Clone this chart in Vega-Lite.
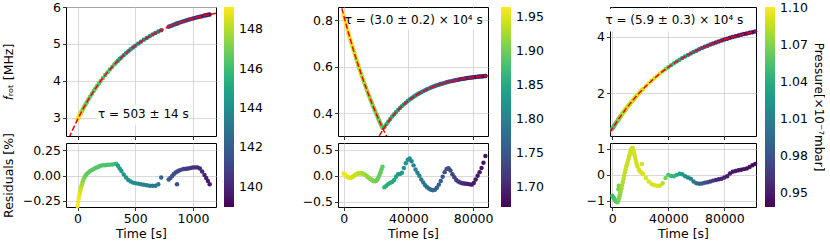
{
"$schema": "https://vega.github.io/schema/vega-lite/v6.json",
"background": "white",
"padding": {"left": 1, "top": 0, "right": 0, "bottom": 0},
"config": {
 "font": "DejaVu Sans",
 "view": {"stroke": "#000000", "strokeWidth": 1},
 "axis": {"labelFontSize": 12.5, "titleFontSize": 12.5, "titleFontWeight": "normal", "labelColor": "#000", "titleColor": "#000", "tickColor": "#000", "tickSize": 3.5, "tickWidth": 0.8, "domain": false, "gridColor": "#cfcfcf", "gridWidth": 0.8, "labelPadding": 2, "labelFlush": false, "labelOverlap": false, "labelBound": false},
 "legend": {"labelFontSize": 12.5, "labelColor": "#000", "titleFontSize": 12.5, "titleFontWeight": "normal", "titleColor": "#000"}
},
"datasets": {
 "d1": [
  {"t":0,"f":2.950,"r":-0.30,"p":149.0},{"t":5,"f":2.981,"r":-0.26,"p":149.0},{"t":10,"f":3.012,"r":-0.225,"p":148.9},{"t":15,"f":3.043,"r":-0.195,"p":148.8},{"t":20,"f":3.074,"r":-0.17,"p":148.7},{"t":25,"f":3.104,"r":-0.145,"p":148.5},{"t":30,"f":3.134,"r":-0.12,"p":148.3},{"t":35,"f":3.163,"r":-0.10,"p":148.0},{"t":40,"f":3.193,"r":-0.08,"p":147.8},{"t":45,"f":3.222,"r":-0.06,"p":147.5},{"t":50,"f":3.250,"r":-0.045,"p":147.3},{"t":60,"f":3.307,"r":-0.02,"p":147.0},{"t":70,"f":3.362,"r":0.0,"p":146.8},{"t":80,"f":3.417,"r":0.015,"p":146.7},{"t":95,"f":3.496,"r":0.03,"p":146.6},{"t":110,"f":3.573,"r":0.045,"p":146.6},{"t":125,"f":3.648,"r":0.055,"p":146.5},{"t":140,"f":3.721,"r":0.065,"p":146.5},{"t":155,"f":3.791,"r":0.075,"p":146.5},{"t":170,"f":3.860,"r":0.08,"p":146.4},{"t":185,"f":3.926,"r":0.088,"p":146.4},{"t":200,"f":3.991,"r":0.095,"p":146.4},{"t":220,"f":4.074,"r":0.10,"p":146.3},{"t":240,"f":4.154,"r":0.102,"p":146.3},{"t":260,"f":4.231,"r":0.105,"p":146.3},{"t":280,"f":4.305,"r":0.107,"p":146.2},{"t":300,"f":4.375,"r":0.108,"p":146.2},{"t":320,"f":4.444,"r":0.112,"p":146.1},{"t":335,"f":4.493,"r":0.115,"p":145.9},{"t":350,"f":4.541,"r":0.095,"p":144.8},{"t":365,"f":4.587,"r":0.07,"p":144.6},{"t":380,"f":4.632,"r":0.045,"p":144.5},{"t":400,"f":4.690,"r":0.01,"p":144.4},{"t":420,"f":4.746,"r":-0.02,"p":144.3},{"t":440,"f":4.800,"r":-0.045,"p":144.2},{"t":460,"f":4.852,"r":-0.06,"p":144.1},{"t":480,"f":4.901,"r":-0.07,"p":144.0},{"t":500,"f":4.949,"r":-0.075,"p":143.9},{"t":525,"f":5.006,"r":-0.08,"p":143.8},{"t":550,"f":5.060,"r":-0.085,"p":143.6},{"t":575,"f":5.111,"r":-0.09,"p":143.5},{"t":600,"f":5.160,"r":-0.095,"p":143.4},{"t":625,"f":5.207,"r":-0.10,"p":143.3},{"t":650,"f":5.252,"r":-0.10,"p":143.2},{"t":675,"f":5.294,"r":-0.10,"p":143.1},{"t":700,"f":5.334,"r":-0.085,"p":143.0},{"t":725,"f":5.372,"r":-0.02,"p":142.2},{"t":790,"f":5.463,"r":-0.04,"p":141.8},{"t":805,"f":5.483,"r":-0.025,"p":141.6},{"t":820,"f":5.501,"r":-0.005,"p":141.5},{"t":835,"f":5.520,"r":0.015,"p":141.4},{"t":850,"f":5.538,"r":0.03,"p":141.3},{"t":862,"f":5.552,"r":-0.085,"p":141.3},{"t":865,"f":5.555,"r":0.04,"p":141.2},{"t":880,"f":5.571,"r":0.05,"p":141.1},{"t":900,"f":5.593,"r":0.058,"p":141.0},{"t":920,"f":5.614,"r":0.063,"p":140.8},{"t":940,"f":5.633,"r":0.067,"p":140.7},{"t":960,"f":5.652,"r":0.07,"p":140.6},{"t":980,"f":5.671,"r":0.075,"p":140.5},{"t":1000,"f":5.688,"r":0.078,"p":140.4},{"t":1020,"f":5.705,"r":0.08,"p":140.3},{"t":1040,"f":5.722,"r":0.08,"p":140.2},{"t":1060,"f":5.737,"r":0.07,"p":140.1},{"t":1080,"f":5.752,"r":0.04,"p":140.0},{"t":1100,"f":5.767,"r":0.005,"p":139.9},{"t":1115,"f":5.777,"r":-0.025,"p":139.8},{"t":1130,"f":5.787,"r":-0.055,"p":139.7},{"t":1145,"f":5.797,"r":-0.085,"p":139.6}
 ],
 "l1": [
  {"t":-100,"f":2.252},{"t":-50,"f":2.618},{"t":0,"f":2.950},{"t":50,"f":3.250},{"t":100,"f":3.522},{"t":150,"f":3.768},{"t":200,"f":3.991},{"t":250,"f":4.193},{"t":300,"f":4.375},{"t":350,"f":4.541},{"t":400,"f":4.690},{"t":450,"f":4.826},{"t":500,"f":4.949},{"t":550,"f":5.060},{"t":600,"f":5.160},{"t":650,"f":5.251},{"t":700,"f":5.334},{"t":750,"f":5.409},{"t":800,"f":5.476},{"t":850,"f":5.538},{"t":900,"f":5.593},{"t":950,"f":5.643},{"t":1000,"f":5.688},{"t":1050,"f":5.730},{"t":1100,"f":5.767},{"t":1150,"f":5.801},{"t":1200,"f":5.831}
 ],
 "b1": [{"t":168,"t2":968,"f":3.35,"f2":2.81}],
 "a1": [{"t":570,"f":3.09,"label":"τ = 503 ± 14 s"}],
 "d2": [
  {"t":0,"f":0.820,"r":0.045,"p":1.962},{"t":600,"f":0.8043,"r":0.03,"p":1.960},{"t":1200,"f":0.7888,"r":0.01,"p":1.958},{"t":1800,"f":0.7735,"r":-0.01,"p":1.957},{"t":2400,"f":0.7585,"r":-0.025,"p":1.955},{"t":3000,"f":0.7436,"r":-0.035,"p":1.953},{"t":3600,"f":0.7290,"r":-0.04,"p":1.951},{"t":4200,"f":0.7146,"r":-0.04,"p":1.949},{"t":4800,"f":0.7004,"r":-0.035,"p":1.948},{"t":5400,"f":0.6864,"r":-0.025,"p":1.946},{"t":6000,"f":0.6726,"r":-0.01,"p":1.944},{"t":6600,"f":0.6589,"r":0.005,"p":1.942},{"t":7200,"f":0.6455,"r":0.02,"p":1.940},{"t":7800,"f":0.6323,"r":0.03,"p":1.939},{"t":8400,"f":0.6192,"r":0.038,"p":1.937},{"t":9000,"f":0.6064,"r":0.044,"p":1.935},{"t":9600,"f":0.5937,"r":0.048,"p":1.933},{"t":10200,"f":0.5812,"r":0.05,"p":1.931},{"t":10800,"f":0.5689,"r":0.05,"p":1.930},{"t":11400,"f":0.5567,"r":0.047,"p":1.928},{"t":12000,"f":0.5447,"r":0.04,"p":1.926},{"t":12600,"f":0.5329,"r":0.03,"p":1.924},{"t":13200,"f":0.5213,"r":0.018,"p":1.922},{"t":13800,"f":0.5098,"r":0.005,"p":1.921},{"t":14400,"f":0.4985,"r":-0.01,"p":1.919},{"t":15000,"f":0.4874,"r":-0.025,"p":1.917},{"t":15600,"f":0.4764,"r":-0.04,"p":1.915},{"t":16200,"f":0.4655,"r":-0.055,"p":1.913},{"t":16800,"f":0.4549,"r":-0.068,"p":1.912},{"t":17400,"f":0.4443,"r":-0.08,"p":1.910},{"t":18000,"f":0.4339,"r":-0.09,"p":1.908},{"t":18600,"f":0.4237,"r":-0.1,"p":1.906},{"t":19200,"f":0.4136,"r":-0.105,"p":1.904},{"t":19800,"f":0.4037,"r":-0.1,"p":1.903},{"t":20400,"f":0.3939,"r":-0.085,"p":1.901},{"t":21000,"f":0.3842,"r":-0.06,"p":1.899},{"t":21600,"f":0.3747,"r":-0.025,"p":1.897},{"t":22200,"f":0.3653,"r":0.02,"p":1.895},{"t":22800,"f":0.3560,"r":0.07,"p":1.894},{"t":23400,"f":0.3469,"r":0.12,"p":1.892},{"t":24000,"f":0.3379,"r":0.175,"p":1.890},
  {"t":25200,"f":0.3406,"r":-0.22,"p":1.862},{"t":26400,"f":0.3530,"r":-0.19,"p":1.859},{"t":27600,"f":0.3647,"r":-0.16,"p":1.856},{"t":28800,"f":0.3758,"r":-0.135,"p":1.853},{"t":30000,"f":0.3863,"r":-0.12,"p":1.850},{"t":31200,"f":0.3963,"r":-0.08,"p":1.846},{"t":32400,"f":0.4057,"r":-0.02,"p":1.842},{"t":33600,"f":0.4146,"r":0.03,"p":1.838},{"t":34800,"f":0.4231,"r":0.035,"p":1.834},{"t":36000,"f":0.4311,"r":0.06,"p":1.830},{"t":37200,"f":0.4386,"r":0.15,"p":1.826},{"t":38400,"f":0.4458,"r":0.24,"p":1.823},{"t":39600,"f":0.4526,"r":0.31,"p":1.819},{"t":40800,"f":0.4590,"r":0.33,"p":1.815},{"t":42000,"f":0.4651,"r":0.28,"p":1.811},{"t":43200,"f":0.4709,"r":0.2,"p":1.807},{"t":44400,"f":0.4763,"r":0.12,"p":1.802},{"t":45600,"f":0.4815,"r":0.06,"p":1.798},{"t":46800,"f":0.4864,"r":0.0,"p":1.795},{"t":48000,"f":0.4910,"r":-0.07,"p":1.791},{"t":49200,"f":0.4954,"r":-0.13,"p":1.787},{"t":50400,"f":0.4996,"r":-0.18,"p":1.784},{"t":51600,"f":0.5035,"r":-0.22,"p":1.780},{"t":52800,"f":0.5072,"r":-0.25,"p":1.777},{"t":54000,"f":0.5108,"r":-0.27,"p":1.773},{"t":55200,"f":0.5141,"r":-0.28,"p":1.769},{"t":56400,"f":0.5173,"r":-0.27,"p":1.765},{"t":57600,"f":0.5203,"r":-0.23,"p":1.760},{"t":58800,"f":0.5231,"r":-0.17,"p":1.756},{"t":60000,"f":0.5258,"r":-0.1,"p":1.752},{"t":61200,"f":0.5283,"r":-0.02,"p":1.749},{"t":62400,"f":0.5307,"r":0.07,"p":1.746},{"t":63600,"f":0.5330,"r":0.13,"p":1.743},{"t":64800,"f":0.5352,"r":0.145,"p":1.740},{"t":66000,"f":0.5372,"r":0.1,"p":1.736},{"t":67200,"f":0.5392,"r":0.03,"p":1.731},{"t":68400,"f":0.5410,"r":-0.03,"p":1.726},{"t":69600,"f":0.5427,"r":-0.08,"p":1.722},{"t":70800,"f":0.5444,"r":-0.11,"p":1.717},{"t":72000,"f":0.5459,"r":-0.13,"p":1.712},{"t":73200,"f":0.5474,"r":-0.145,"p":1.707},{"t":74400,"f":0.5488,"r":-0.15,"p":1.702},{"t":75600,"f":0.5501,"r":-0.155,"p":1.699},{"t":76800,"f":0.5514,"r":-0.16,"p":1.697},{"t":78000,"f":0.5526,"r":-0.165,"p":1.695},{"t":79200,"f":0.5537,"r":-0.17,"p":1.693},{"t":80400,"f":0.5547,"r":-0.14,"p":1.691},{"t":81600,"f":0.5557,"r":-0.07,"p":1.690},{"t":82800,"f":0.5567,"r":0.0,"p":1.688},{"t":84000,"f":0.5576,"r":0.07,"p":1.687},{"t":85200,"f":0.5585,"r":0.15,"p":1.685},{"t":86400,"f":0.5593,"r":0.25,"p":1.684},{"t":87600,"f":0.5600,"r":0.38,"p":1.682}
 ],
 "l2": [
  {"t":-3500,"f":0.916,"s":"a"},{"t":-1500,"f":0.860,"s":"a"},{"t":0,"f":0.820,"s":"a"},{"t":3000,"f":0.7436,"s":"a"},{"t":6000,"f":0.6726,"s":"a"},{"t":9000,"f":0.6064,"s":"a"},{"t":12000,"f":0.5447,"s":"a"},{"t":15000,"f":0.4874,"s":"a"},{"t":18000,"f":0.4339,"s":"a"},{"t":21000,"f":0.3842,"s":"a"},{"t":24000,"f":0.3379,"s":"a"},{"t":27000,"f":0.295,"s":"a"},
  {"t":22000,"f":0.304,"s":"b"},{"t":24400,"f":0.332,"s":"b"},{"t":26400,"f":0.353,"s":"b"},{"t":28800,"f":0.3758,"s":"b"},{"t":32400,"f":0.4057,"s":"b"},{"t":36000,"f":0.4311,"s":"b"},{"t":40000,"f":0.455,"s":"b"},{"t":44400,"f":0.4763,"s":"b"},{"t":48000,"f":0.491,"s":"b"},{"t":52800,"f":0.5072,"s":"b"},{"t":57600,"f":0.5203,"s":"b"},{"t":63600,"f":0.533,"s":"b"},{"t":70800,"f":0.5444,"s":"b"},{"t":78000,"f":0.5526,"s":"b"},{"t":84000,"f":0.5576,"s":"b"},{"t":89200,"f":0.561,"s":"b"}
 ],
 "b2": [{"t":3200,"t2":84000,"f":0.847,"f2":0.76}],
 "a2": [{"t":43300,"f":0.799,"label":"τ = (3.0 ± 0.2) × 10⁴ s"}],
 "d3": [
  {"t":0,"f":0.750,"r":-0.8,"p":1.050},{"t":600,"f":0.797,"r":-0.85,"p":1.050},{"t":1200,"f":0.844,"r":-0.9,"p":1.052},{"t":1800,"f":0.890,"r":-0.95,"p":1.055},{"t":2400,"f":0.935,"r":-1.0,"p":1.057},{"t":3000,"f":0.980,"r":-1.04,"p":1.060},{"t":3600,"f":1.024,"r":-1.05,"p":1.062},{"t":4200,"f":1.068,"r":-0.98,"p":1.065},{"t":4400,"f":1.082,"r":-0.55,"p":1.067},{"t":4600,"f":1.097,"r":-0.42,"p":1.068},{"t":4800,"f":1.111,"r":-0.9,"p":1.070},{"t":5100,"f":1.133,"r":-0.82,"p":1.071},{"t":5400,"f":1.154,"r":-0.75,"p":1.073},{"t":5700,"f":1.175,"r":-0.68,"p":1.074},{"t":6000,"f":1.196,"r":-0.62,"p":1.076},{"t":6500,"f":1.231,"r":-0.51,"p":1.078},{"t":7000,"f":1.265,"r":-0.4,"p":1.080},{"t":7500,"f":1.300,"r":-0.27,"p":1.082},{"t":8000,"f":1.333,"r":-0.15,"p":1.083},{"t":8500,"f":1.367,"r":-0.02,"p":1.084},{"t":9000,"f":1.400,"r":0.1,"p":1.085},{"t":9500,"f":1.433,"r":0.21,"p":1.086},{"t":10000,"f":1.465,"r":0.32,"p":1.087},{"t":10500,"f":1.497,"r":0.41,"p":1.087},{"t":11000,"f":1.529,"r":0.5,"p":1.088},{"t":11500,"f":1.561,"r":0.6,"p":1.088},{"t":12000,"f":1.592,"r":0.7,"p":1.088},{"t":12500,"f":1.623,"r":0.8,"p":1.088},{"t":13000,"f":1.653,"r":0.9,"p":1.088},{"t":13500,"f":1.684,"r":0.97,"p":1.088},{"t":14000,"f":1.713,"r":1.02,"p":1.088},{"t":14600,"f":1.749,"r":1.03,"p":1.088},{"t":15200,"f":1.784,"r":0.92,"p":1.090},{"t":15600,"f":1.807,"r":0.82,"p":1.090},{"t":16000,"f":1.830,"r":0.72,"p":1.090},{"t":16500,"f":1.859,"r":0.61,"p":1.090},{"t":17000,"f":1.887,"r":0.5,"p":1.090},{"t":17500,"f":1.915,"r":0.41,"p":1.090},{"t":18000,"f":1.943,"r":0.32,"p":1.090},{"t":19000,"f":1.997,"r":0.2,"p":1.090},{"t":20000,"f":2.051,"r":0.12,"p":1.090},{"t":21000,"f":2.103,"r":0.08,"p":1.091},{"t":21200,"f":2.113,"r":0.42,"p":1.091},{"t":22000,"f":2.154,"r":0.03,"p":1.092},{"t":24000,"f":2.254,"r":-0.12,"p":1.092},{"t":26000,"f":2.350,"r":-0.25,"p":1.092},{"t":28000,"f":2.442,"r":-0.35,"p":1.092},{"t":30000,"f":2.530,"r":-0.4,"p":1.092},{"t":32000,"f":2.615,"r":-0.42,"p":1.092},{"t":34000,"f":2.696,"r":-0.42,"p":1.090},{"t":36000,"f":2.775,"r":-0.32,"p":1.083},{"t":38000,"f":2.850,"r":-0.12,"p":1.068},{"t":40000,"f":2.922,"r":0.0,"p":1.056},{"t":42000,"f":2.992,"r":-0.04,"p":1.050},{"t":44000,"f":3.059,"r":-0.05,"p":1.045},{"t":46000,"f":3.123,"r":0.0,"p":1.040},{"t":48000,"f":3.185,"r":0.04,"p":1.035},{"t":50000,"f":3.244,"r":0.02,"p":1.028},{"t":52000,"f":3.301,"r":-0.05,"p":1.022},{"t":54000,"f":3.355,"r":-0.1,"p":1.017},{"t":56000,"f":3.408,"r":-0.15,"p":1.012},{"t":58000,"f":3.458,"r":-0.25,"p":1.005},{"t":60000,"f":3.507,"r":-0.32,"p":0.998},{"t":62000,"f":3.553,"r":-0.34,"p":0.990},{"t":64000,"f":3.598,"r":-0.33,"p":0.985},{"t":66000,"f":3.641,"r":-0.3,"p":0.980},{"t":68000,"f":3.683,"r":-0.28,"p":0.975},{"t":70000,"f":3.722,"r":-0.25,"p":0.970},{"t":72000,"f":3.760,"r":-0.22,"p":0.965},{"t":74000,"f":3.797,"r":-0.2,"p":0.960},{"t":76000,"f":3.832,"r":-0.17,"p":0.957},{"t":78000,"f":3.866,"r":-0.15,"p":0.955},{"t":80000,"f":3.899,"r":-0.1,"p":0.953},{"t":82000,"f":3.930,"r":-0.05,"p":0.951},{"t":84000,"f":3.960,"r":0.05,"p":0.950},{"t":86000,"f":3.989,"r":0.12,"p":0.949},{"t":88000,"f":4.016,"r":0.15,"p":0.948},{"t":90000,"f":4.043,"r":0.18,"p":0.948},{"t":92000,"f":4.069,"r":0.2,"p":0.947},{"t":94000,"f":4.093,"r":0.22,"p":0.947},{"t":96000,"f":4.117,"r":0.24,"p":0.946},{"t":98000,"f":4.139,"r":0.3,"p":0.946},{"t":100000,"f":4.161,"r":0.37,"p":0.945},{"t":102000,"f":4.182,"r":0.42,"p":0.945}
 ],
 "l3": [
  {"t":-1650,"f":0.618},{"t":0,"f":0.750},{"t":5000,"f":1.126},{"t":10000,"f":1.465},{"t":15000,"f":1.773},{"t":20000,"f":2.051},{"t":25000,"f":2.302},{"t":30000,"f":2.530},{"t":35000,"f":2.736},{"t":40000,"f":2.923},{"t":45000,"f":3.091},{"t":50000,"f":3.244},{"t":55000,"f":3.382},{"t":60000,"f":3.507},{"t":65000,"f":3.620},{"t":70000,"f":3.722},{"t":75000,"f":3.815},{"t":80000,"f":3.899},{"t":85000,"f":3.974},{"t":90000,"f":4.043},{"t":95000,"f":4.105},{"t":100000,"f":4.161},{"t":102600,"f":4.188}
 ],
 "b3": [{"t":-1650,"t2":92600,"f":4.99,"f2":4.18}],
 "a3": [{"t":44300,"f":4.59,"label":"τ = (5.9 ± 0.3) × 10⁴ s"}]
},
"hconcat": [
 {
  "vconcat": [
   {
    "width": 150, "height": 129,
    "encoding": {
     "x": {"field": "t", "type": "quantitative", "scale": {"domain": [-100, 1200], "nice": false, "zero": false}, "axis": {"values": [0, 500, 1000], "labels": false, "title": null}},
     "y": {"field": "f", "type": "quantitative", "scale": {"domain": [2.5, 6], "nice": false, "zero": false}, "axis": {"values": [3, 4, 5, 6], "title": "𝑓ᵣₒₜ [MHz]", "titlePadding": 37}}
    },
    "layer": [
     {"data": {"name": "d1"}, "mark": {"type": "circle", "size": 20, "opacity": 1},
      "encoding": {"color": {"field": "p", "type": "quantitative", "scale": {"scheme": "viridis", "domain": [138.97, 149.13]}, "legend": {"title": null, "values": [140, 142, 144, 146, 148], "format": "d", "gradientLength": 200, "gradientThickness": 10, "offset": 7, "labelOffset": 5, "labelOverlap": false, "labelFlush": false, "gradientStrokeWidth": 0, "direction": "vertical", "orient": "right"}}}},
     {"data": {"name": "l1"}, "mark": {"type": "line", "color": "#ff0000", "strokeWidth": 1.5, "strokeDash": [5.5, 2.4], "clip": true}, "encoding": {}},
     {"data": {"name": "b1"}, "mark": {"type": "rect", "fill": "white"}, "encoding": {"x2": {"field": "t2"}, "y2": {"field": "f2"}}},
     {"data": {"name": "a1"}, "mark": {"type": "text", "fontSize": 12, "align": "center", "baseline": "middle", "color": "#000"}, "encoding": {"text": {"field": "label"}}}
    ]
   },
   {
    "width": 150, "height": 64,
    "data": {"name": "d1"},
    "mark": {"type": "circle", "size": 20, "opacity": 1},
    "encoding": {
     "x": {"field": "t", "type": "quantitative", "scale": {"domain": [-100, 1200], "nice": false, "zero": false}, "axis": {"values": [0, 500, 1000], "format": "d", "title": "Time [s]", "titlePadding": 2}},
     "y": {"field": "r", "type": "quantitative", "scale": {"domain": [-0.31, 0.32], "nice": false, "zero": false}, "axis": {"values": [-0.25, 0, 0.25], "format": ".2f", "title": "Residuals [%]", "titlePadding": 7}},
     "color": {"field": "p", "type": "quantitative", "scale": {"scheme": "viridis", "domain": [138.97, 149.13]}, "legend": {"title": null, "values": [140, 142, 144, 146, 148], "format": "d", "gradientLength": 200, "gradientThickness": 10, "offset": 7, "labelOffset": 5, "labelOverlap": false, "labelFlush": false, "gradientStrokeWidth": 0, "direction": "vertical", "orient": "right"}}
    }
   }
  ],
  "spacing": 7,
  "bounds": "flush",
  "resolve": {"scale": {"color": "shared"}, "legend": {"color": "shared"}}
 },
 {
  "vconcat": [
   {
    "width": 150, "height": 129,
    "encoding": {
     "x": {"field": "t", "type": "quantitative", "scale": {"domain": [-3500, 89200], "nice": false, "zero": false}, "axis": {"values": [0, 40000, 80000], "labels": false, "title": null}},
     "y": {"field": "f", "type": "quantitative", "scale": {"domain": [0.303, 0.856], "nice": false, "zero": false}, "axis": {"values": [0.4, 0.6, 0.8], "format": ".1f", "title": null}}
    },
    "layer": [
     {"data": {"name": "d2"}, "mark": {"type": "circle", "size": 20, "opacity": 1},
      "encoding": {"color": {"field": "p", "type": "quantitative", "scale": {"scheme": "viridis", "domain": [1.670, 1.964]}, "legend": {"title": null, "values": [1.70, 1.75, 1.80, 1.85, 1.90, 1.95], "format": ".2f", "gradientLength": 200, "gradientThickness": 10, "offset": 7, "labelOffset": 5, "labelOverlap": false, "labelFlush": false, "gradientStrokeWidth": 0, "direction": "vertical", "orient": "right"}}}},
     {"data": {"name": "l2"}, "mark": {"type": "line", "color": "#ff0000", "strokeWidth": 1.5, "strokeDash": [5.5, 2.4], "clip": true}, "encoding": {"detail": {"field": "s"}}},
     {"data": {"name": "b2"}, "mark": {"type": "rect", "fill": "white"}, "encoding": {"x2": {"field": "t2"}, "y2": {"field": "f2"}}},
     {"data": {"name": "a2"}, "mark": {"type": "text", "fontSize": 12, "align": "center", "baseline": "middle", "color": "#000"}, "encoding": {"text": {"field": "label"}}}
    ]
   },
   {
    "width": 150, "height": 64,
    "data": {"name": "d2"},
    "mark": {"type": "circle", "size": 20, "opacity": 1},
    "encoding": {
     "x": {"field": "t", "type": "quantitative", "scale": {"domain": [-3500, 89200], "nice": false, "zero": false}, "axis": {"values": [0, 40000, 80000], "format": "d", "title": "Time [s]", "titlePadding": 2}},
     "y": {"field": "r", "type": "quantitative", "scale": {"domain": [-0.6, 0.63], "nice": false, "zero": false}, "axis": {"values": [-0.5, 0, 0.5], "format": ".1f", "title": null}},
     "color": {"field": "p", "type": "quantitative", "scale": {"scheme": "viridis", "domain": [1.670, 1.964]}, "legend": {"title": null, "values": [1.70, 1.75, 1.80, 1.85, 1.90, 1.95], "format": ".2f", "gradientLength": 200, "gradientThickness": 10, "offset": 7, "labelOffset": 5, "labelOverlap": false, "labelFlush": false, "gradientStrokeWidth": 0, "direction": "vertical", "orient": "right"}}
    }
   }
  ],
  "spacing": 7,
  "bounds": "flush",
  "resolve": {"scale": {"color": "shared"}, "legend": {"color": "shared"}}
 },
 {
  "vconcat": [
   {
    "width": 146, "height": 129,
    "encoding": {
     "x": {"field": "t", "type": "quantitative", "scale": {"domain": [-1650, 102600], "nice": false, "zero": false}, "axis": {"values": [0, 40000, 80000], "labels": false, "title": null}},
     "y": {"field": "f", "type": "quantitative", "scale": {"domain": [0.49, 5.05], "nice": false, "zero": false}, "axis": {"values": [2, 4], "format": "d", "title": null, "minExtent": 27}}
    },
    "layer": [
     {"data": {"name": "d3"}, "mark": {"type": "circle", "size": 20, "opacity": 1},
      "encoding": {"color": {"field": "p", "type": "quantitative", "scale": {"scheme": "viridis", "domain": [0.939, 1.1006]}, "legend": {"title": "Pressure[×10⁻⁷mbar]", "titleOrient": "right", "titleAngle": 270, "titleAnchor": "middle", "titlePadding": 4, "titleFontSize": 12, "values": [0.95, 0.98, 1.01, 1.04, 1.07, 1.10], "format": ".2f", "gradientLength": 200, "gradientThickness": 10, "offset": 7, "labelOffset": 5, "labelOverlap": false, "labelFlush": false, "gradientStrokeWidth": 0, "direction": "vertical", "orient": "right"}}}},
     {"data": {"name": "l3"}, "mark": {"type": "line", "color": "#ff0000", "strokeWidth": 1.5, "strokeDash": [5.5, 2.4], "clip": true}, "encoding": {}},
     {"data": {"name": "b3"}, "mark": {"type": "rect", "fill": "white", "clip": true}, "encoding": {"x2": {"field": "t2"}, "y2": {"field": "f2"}}},
     {"data": {"name": "a3"}, "mark": {"type": "text", "fontSize": 12, "align": "center", "baseline": "middle", "color": "#000"}, "encoding": {"text": {"field": "label"}}}
    ]
   },
   {
    "width": 146, "height": 64,
    "data": {"name": "d3"},
    "mark": {"type": "circle", "size": 20, "opacity": 1},
    "encoding": {
     "x": {"field": "t", "type": "quantitative", "scale": {"domain": [-1650, 102600], "nice": false, "zero": false}, "axis": {"values": [0, 40000, 80000], "format": "d", "title": "Time [s]", "titlePadding": 2}},
     "y": {"field": "r", "type": "quantitative", "scale": {"domain": [-1.23, 1.22], "nice": false, "zero": false}, "axis": {"values": [-1, 0, 1], "format": "d", "title": null, "minExtent": 27}},
     "color": {"field": "p", "type": "quantitative", "scale": {"scheme": "viridis", "domain": [0.939, 1.1006]}, "legend": {"title": "Pressure[×10⁻⁷mbar]", "titleOrient": "right", "titleAngle": 270, "titleAnchor": "middle", "titlePadding": 4, "titleFontSize": 12, "values": [0.95, 0.98, 1.01, 1.04, 1.07, 1.10], "format": ".2f", "gradientLength": 200, "gradientThickness": 10, "offset": 7, "labelOffset": 5, "labelOverlap": false, "labelFlush": false, "gradientStrokeWidth": 0, "direction": "vertical", "orient": "right"}}
    }
   }
  ],
  "spacing": 7,
  "bounds": "flush",
  "resolve": {"scale": {"color": "shared"}, "legend": {"color": "shared"}}
 }
],
"spacing": 38,
"resolve": {"scale": {"color": "independent"}, "legend": {"color": "independent"}}
}
